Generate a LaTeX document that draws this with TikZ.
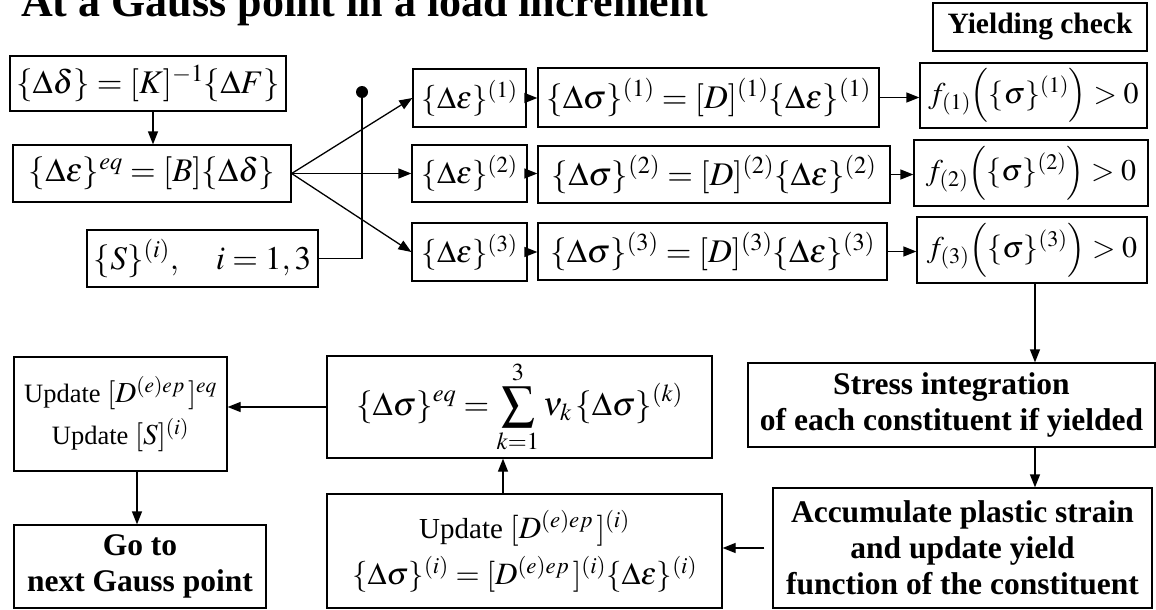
\documentclass[tikz,border=0pt]{standalone}
\usepackage{mathptmx}
\usepackage{fontspec}
\setmainfont{Liberation Serif}
\usetikzlibrary{arrows.meta, calc}

% Larger size for formulas mixed with plain words
\newcommand{\bigEq}[1]{{\fontsize{31}{46}\selectfont$#1$}}
\newcommand{\midEq}[1]{{\fontsize{29}{42}\selectfont$#1$}}

\begin{document}
\begin{tikzpicture}[x=1pt, y=-1pt,
    box/.style={draw, line width=1.3pt, inner sep=0pt, align=center, font=\fontsize{33}{40}\selectfont},
    smallBox/.style={box, font=\fontsize{31}{40}\selectfont},
    yieldBox/.style={box, font=\fontsize{30}{40}\selectfont},
    wordBox/.style={box, font=\fontsize{29}{46}\selectfont},
    boldBox/.style={box, font=\fontsize{31.5}{36}\selectfont\bfseries},
    flow/.style={line width=1.3pt, -{Triangle[length=13pt, width=10pt]}}]

    % Fix the page size
    \useasboundingbox (0,0) rectangle (1156,610);

    % Title (cut at the top edge)
    \node[anchor=base west, inner sep=0pt, font=\fontsize{44}{50}\selectfont\bfseries] (title) at (21,17) {At a Gauss point in a load increment};

    % Left column
    \node[box, minimum width=276, minimum height=55] (dispInc) at (148,83.5) {$\{\Delta\delta\}=[K]^{-1}\{\Delta F\}$};
    \node[box, minimum width=278, minimum height=57] (strainEq) at (152,173.5) {$\{\Delta\varepsilon\}^{eq}=[B]\{\Delta\delta\}$};
    \node[box, minimum width=231, minimum height=57] (stateVar) at (202.5,258.5) {$\{S\}^{(i)},\quad i=1,3$};

    % Constituent strains
    \node[smallBox, minimum width=113, minimum height=58] (strain1) at (469.5,98) {$\{\Delta\varepsilon\}^{(1)}$};
    \node[smallBox, minimum width=115, minimum height=57] (strain2) at (469.5,173.5) {$\{\Delta\varepsilon\}^{(2)}$};
    \node[smallBox, minimum width=115, minimum height=58] (strain3) at (469.5,252) {$\{\Delta\varepsilon\}^{(3)}$};

    % Constituent stresses
    \node[box, minimum width=341, minimum height=59] (stress1) at (708.5,97.5) {$\{\Delta\sigma\}^{(1)}=[D]^{(1)}\{\Delta\varepsilon\}^{(1)}$};
    \node[box, minimum width=352, minimum height=57] (stress2) at (714,174.5) {$\{\Delta\sigma\}^{(2)}=[D]^{(2)}\{\Delta\varepsilon\}^{(2)}$};
    \node[box, minimum width=349, minimum height=57] (stress3) at (712.5,251.5) {$\{\Delta\sigma\}^{(3)}=[D]^{(3)}\{\Delta\varepsilon\}^{(3)}$};

    % Yield functions
    \node[boldBox, minimum width=214, minimum height=48, font=\fontsize{29.5}{36}\selectfont\bfseries] (yieldCheck) at (1040,27) {Yielding check};
    \node[yieldBox, minimum width=227, minimum height=65] (yield1) at (1033.5,95.5) {$f_{(1)}\Bigl(\{\sigma\}^{(1)}\Bigr)>0$};
    \node[yieldBox, minimum width=234, minimum height=66] (yield2) at (1031,173) {$f_{(2)}\Bigl(\{\sigma\}^{(2)}\Bigr)>0$};
    \node[yieldBox, minimum width=230, minimum height=66] (yield3) at (1032,250) {$f_{(3)}\Bigl(\{\sigma\}^{(3)}\Bigr)>0$};

    % Lower part
    \node[boldBox, minimum width=407, minimum height=84] (integrate) at (951.5,405) {Stress integration\\of each constituent if yielded};
    \node[boldBox, minimum width=379, minimum height=120] (accumulate) at (962.5,548) {Accumulate plastic strain\\and update yield\\function of the constituent};
    \node[wordBox, minimum width=395, minimum height=114] (updateI) at (524.5,551) {Update \bigEq{[D^{(e)ep}\,]^{(i)}}\\\bigEq{\{\Delta\sigma\}^{(i)}=[D^{(e)ep}\,]^{(i)}\{\Delta\varepsilon\}^{(i)}}};
    \node[box, minimum width=385, minimum height=102] (sumStress) at (519.5,407) {$\displaystyle\{\Delta\sigma\}^{eq}=\sum_{k=1}^{3}\nu_k\,\{\Delta\sigma\}^{(k)}$};
    \node[wordBox, minimum width=213, minimum height=114, font=\fontsize{26.5}{42}\selectfont] (updateEq) at (120.5,414) {Update \midEq{[D^{(e)ep}\,]^{eq}}\\Update \midEq{[S]^{(i)}}};
    \node[boldBox, minimum width=252, minimum height=83] (nextPoint) at (140,566.5) {Go to\\next Gauss point};

    % Junction dot
    \coordinate (junction) at (362,92);
    \fill (junction) circle (6);

    % Connectors
    \draw[flow] (dispInc.south -| 153,0) -- (strainEq.north -| 153,0);
    \draw[line width=1.3pt] (stateVar.east) -| (junction);
    \foreach \i in {1,2,3} {
        \draw[flow] (strainEq.east) -- (strain\i.west);
        \draw[flow] (strain\i.east) -- (strain\i.east -| stress\i.west);
        \draw[flow] (stress\i.east) -- (stress\i.east -| yield\i.west);
    }
    \draw[flow] (yield3.south -| 1035,0) -- (integrate.north -| 1035,0);
    \draw[flow] (integrate.south -| 1035,0) -- (accumulate.north -| 1035,0);
    \draw[flow, shorten <=8pt] (accumulate.west) -- (accumulate.west -| updateI.east);
    \draw[flow] (updateI.north -| 503,0) -- (sumStress.south -| 503,0);
    \draw[flow] (sumStress.west) -- (sumStress.west -| updateEq.east);
    \draw[flow] (updateEq.south -| 137,0) -- (nextPoint.north -| 137,0);

\end{tikzpicture}
\end{document}
